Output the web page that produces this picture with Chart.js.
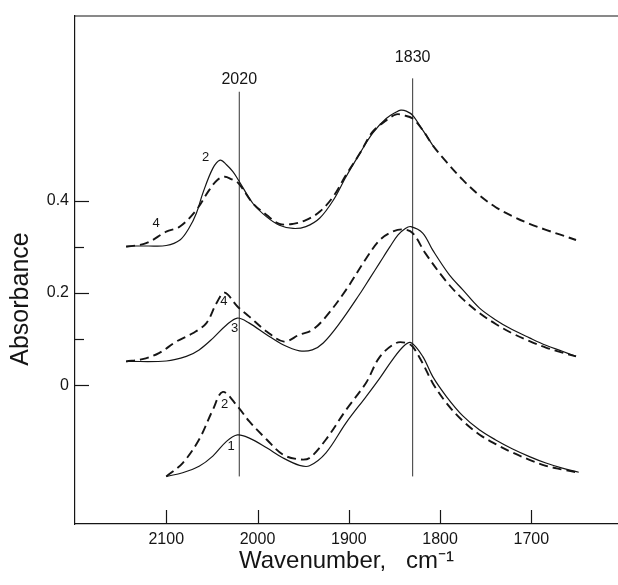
<!DOCTYPE html>
<html><head><meta charset="utf-8">
<script src="https://cdn.jsdelivr.net/npm/chart.js@4.4.1/dist/chart.umd.min.js"></script>
<style>html,body{margin:0;padding:0;background:#fff;}canvas{display:block;}</style>
</head><body>
<canvas id="c" width="618" height="585"></canvas>
<script>
// ---- axis ticks ----
const xTickValues = [2100, 2000, 1900, 1800, 1700];
const yTickValues = [0, 0.1, 0.2, 0.3, 0.4];
const yTickLabels = ['0', '', '0.2', '', '0.4'];

// ---- top pair (offset ~0.3) ----
const top2X = [2144,2120,2100,2085,2075,2067,2060,2049,2041,2034,2027,2021,2005,1990,1976,1961,1947,1932,1917,1903,1888,1874,1859,1848,1843,1837,1830,1819,1808];
const top2Y = [0.302,0.302,0.303,0.315,0.341,0.373,0.416,0.470,0.488,0.478,0.463,0.445,0.394,0.365,0.347,0.340,0.344,0.362,0.401,0.452,0.502,0.546,0.578,0.592,0.596,0.594,0.585,0.553,0.520];
const top4X = [2144,2122,2100,2085,2067,2053,2044,2036,2029,2021,2005,1990,1976,1961,1947,1932,1917,1903,1888,1874,1859,1848,1840,1830,1819,1808,1793,1775,1757,1739,1720,1702,1684,1669,1651];
const top4Y = [0.300,0.308,0.333,0.344,0.380,0.423,0.445,0.452,0.447,0.438,0.394,0.369,0.350,0.350,0.358,0.376,0.409,0.456,0.502,0.549,0.574,0.587,0.585,0.578,0.553,0.520,0.484,0.445,0.412,0.386,0.366,0.350,0.337,0.327,0.315];

// ---- middle pair (offset ~0.05) ----
const mid3X = [2144,2100,2078,2064,2049,2034,2022,2009,1990,1972,1954,1940,1928,1910,1888,1877,1866,1855,1846,1838,1832,1819,1808,1790,1775,1757,1739,1721,1702,1684,1666,1651];
const mid3Y = [0.052,0.053,0.063,0.077,0.102,0.131,0.146,0.135,0.110,0.088,0.075,0.077,0.092,0.135,0.198,0.232,0.266,0.300,0.326,0.340,0.344,0.330,0.293,0.240,0.207,0.168,0.142,0.121,0.103,0.087,0.074,0.063];
const mid4X = [2144,2126,2108,2089,2071,2056,2045,2036,2022,2009,1990,1971,1954,1940,1925,1903,1881,1866,1852,1841,1830,1816,1793,1775,1757,1739,1721,1702,1684,1666,1651];
const mid4Y = [0.052,0.057,0.070,0.095,0.113,0.135,0.178,0.201,0.171,0.149,0.117,0.095,0.110,0.120,0.149,0.207,0.275,0.315,0.333,0.338,0.330,0.286,0.225,0.187,0.157,0.133,0.113,0.096,0.082,0.071,0.063];

// ---- bottom pair (offset ~-0.2) ----
const bot1X = [2100,2082,2064,2049,2034,2022,2009,1990,1972,1954,1943,1925,1903,1881,1866,1852,1840,1832,1819,1808,1793,1775,1757,1739,1721,1702,1684,1666,1648];
const bot1Y = [-0.197,-0.189,-0.175,-0.153,-0.121,-0.107,-0.114,-0.135,-0.157,-0.173,-0.174,-0.146,-0.081,-0.024,0.016,0.056,0.085,0.093,0.063,0.019,-0.024,-0.066,-0.096,-0.118,-0.137,-0.154,-0.168,-0.179,-0.188];
const bot2X = [2100,2082,2064,2049,2038,2022,2009,1990,1972,1954,1943,1925,1903,1881,1866,1848,1837,1830,1819,1808,1793,1775,1757,1739,1721,1702,1684,1666,1648];
const bot2Y = [-0.197,-0.168,-0.117,-0.053,-0.014,-0.045,-0.078,-0.117,-0.150,-0.160,-0.157,-0.117,-0.053,0.006,0.062,0.092,0.092,0.084,0.048,0.005,-0.038,-0.077,-0.106,-0.127,-0.145,-0.161,-0.174,-0.182,-0.189];

// ---- reference lines ----
const refLineX = [2020, 1830];
const refLineTop = [0.636, 0.665];
const refLineBottom = [-0.197, -0.197];
const refLabelY = [0.663, 0.711];

// ---- curve labels ----
const curveLabelText = ['2', '4', '4', '3', '2', '1'];
const curveLabelX = [2057, 2111, 2037, 2025, 2036, 2029];
const curveLabelY = [0.494, 0.351, 0.181, 0.124, -0.042, -0.131];

const FONT = "'Liberation Sans', Arial, sans-serif";
const INK = '#151515';

function pts(xs, ys) { return xs.map((x, i) => ({ x: x, y: ys[i] })); }
function curve(label, xs, ys, dashed) {
  return {
    label: label, data: pts(xs, ys), borderColor: INK,
    borderWidth: dashed ? 1.9 : 1.2, borderDash: dashed ? [9, 5] : [],
    pointRadius: 0, tension: 0.35, fill: false
  };
}
const datasets = [
  curve('top 2', top2X, top2Y, false),
  curve('top 4', top4X, top4Y, true),
  curve('middle 3', mid3X, mid3Y, false),
  curve('middle 4', mid4X, mid4Y, true),
  curve('bottom 1', bot1X, bot1Y, false),
  curve('bottom 2', bot2X, bot2Y, true)
];
refLineX.forEach((x, i) => {
  datasets.push({
    label: 'ref ' + x,
    data: [{ x: x, y: refLineBottom[i] }, { x: x, y: refLineTop[i] }],
    borderColor: '#333', borderWidth: 1, pointRadius: 0, tension: 0
  });
});

const decor = {
  id: 'decor',
  afterDraw(chart) {
    const ctx = chart.ctx, a = chart.chartArea;
    const xs = chart.scales.x, ys = chart.scales.y;
    ctx.save();
    ctx.strokeStyle = INK; ctx.lineWidth = 1.2;
    // top frame line
    ctx.beginPath(); ctx.moveTo(a.left, a.top); ctx.lineTo(chart.width, a.top); ctx.stroke();
    // inward ticks x
    xTickValues.forEach(v => {
      const px = Math.round(xs.getPixelForValue(v)) + 0.5;
      ctx.beginPath(); ctx.moveTo(px, a.bottom); ctx.lineTo(px, a.bottom - 14); ctx.stroke();
    });
    // inward ticks y
    yTickValues.forEach((v, i) => {
      const py = Math.round(ys.getPixelForValue(v)) + 0.5;
      const len = yTickLabels[i] ? 14 : 9;
      ctx.beginPath(); ctx.moveTo(a.left, py); ctx.lineTo(a.left + len, py); ctx.stroke();
    });
    ctx.fillStyle = INK;
    ctx.textAlign = 'center'; ctx.textBaseline = 'middle';
    // reference line labels
    ctx.font = '16px ' + FONT;
    refLineX.forEach((x, i) => {
      ctx.fillText(String(x), xs.getPixelForValue(x), ys.getPixelForValue(refLabelY[i]));
    });
    // curve labels
    ctx.font = '13px ' + FONT;
    curveLabelText.forEach((t, i) => {
      ctx.fillText(t, xs.getPixelForValue(curveLabelX[i]), ys.getPixelForValue(curveLabelY[i]));
    });
    // y axis title
    ctx.save();
    ctx.translate(21, 299);
    ctx.rotate(-Math.PI / 2);
    ctx.font = '25px ' + FONT;
    ctx.fillText('Absorbance', 0, 0);
    ctx.restore();
    ctx.restore();
  }
};

new Chart(document.getElementById('c'), {
  type: 'line',
  data: { datasets: datasets },
  options: {
    responsive: false, animation: false, devicePixelRatio: 1,
    layout: { padding: { top: 16, right: 0, left: 0, bottom: 0 } },
    plugins: { legend: { display: false }, tooltip: { enabled: false } },
    scales: {
      x: {
        type: 'linear', reverse: true, min: 1605, max: 2200,
        afterBuildTicks: s => { s.ticks = xTickValues.map(v => ({ value: v })); },
        afterFit: s => { s.height = 61; },
        ticks: { autoSkip: false, maxRotation: 0, padding: 6, color: INK,
                 font: { family: FONT, size: 16 }, callback: v => String(v) },
        grid: { drawOnChartArea: false, drawTicks: false },
        border: { display: true, color: INK, width: 1.2 },
        title: { display: true, text: 'Wavenumber,   cm\u207B\u00B9', color: INK,
                 font: { family: FONT, size: 24 }, padding: { top: 0, bottom: 9 } }
      },
      y: {
        type: 'linear', min: -0.3, max: 0.8,
        afterBuildTicks: s => { s.ticks = yTickValues.map(v => ({ value: v })); },
        afterFit: s => { s.width = 75; },
        ticks: { padding: 6, color: INK, font: { family: FONT, size: 16 },
                 callback: (v, i) => yTickLabels[i] },
        grid: { drawOnChartArea: false, drawTicks: false },
        border: { display: true, color: INK, width: 1.2 }
      }
    }
  },
  plugins: [decor]
});
</script>
</body></html>
